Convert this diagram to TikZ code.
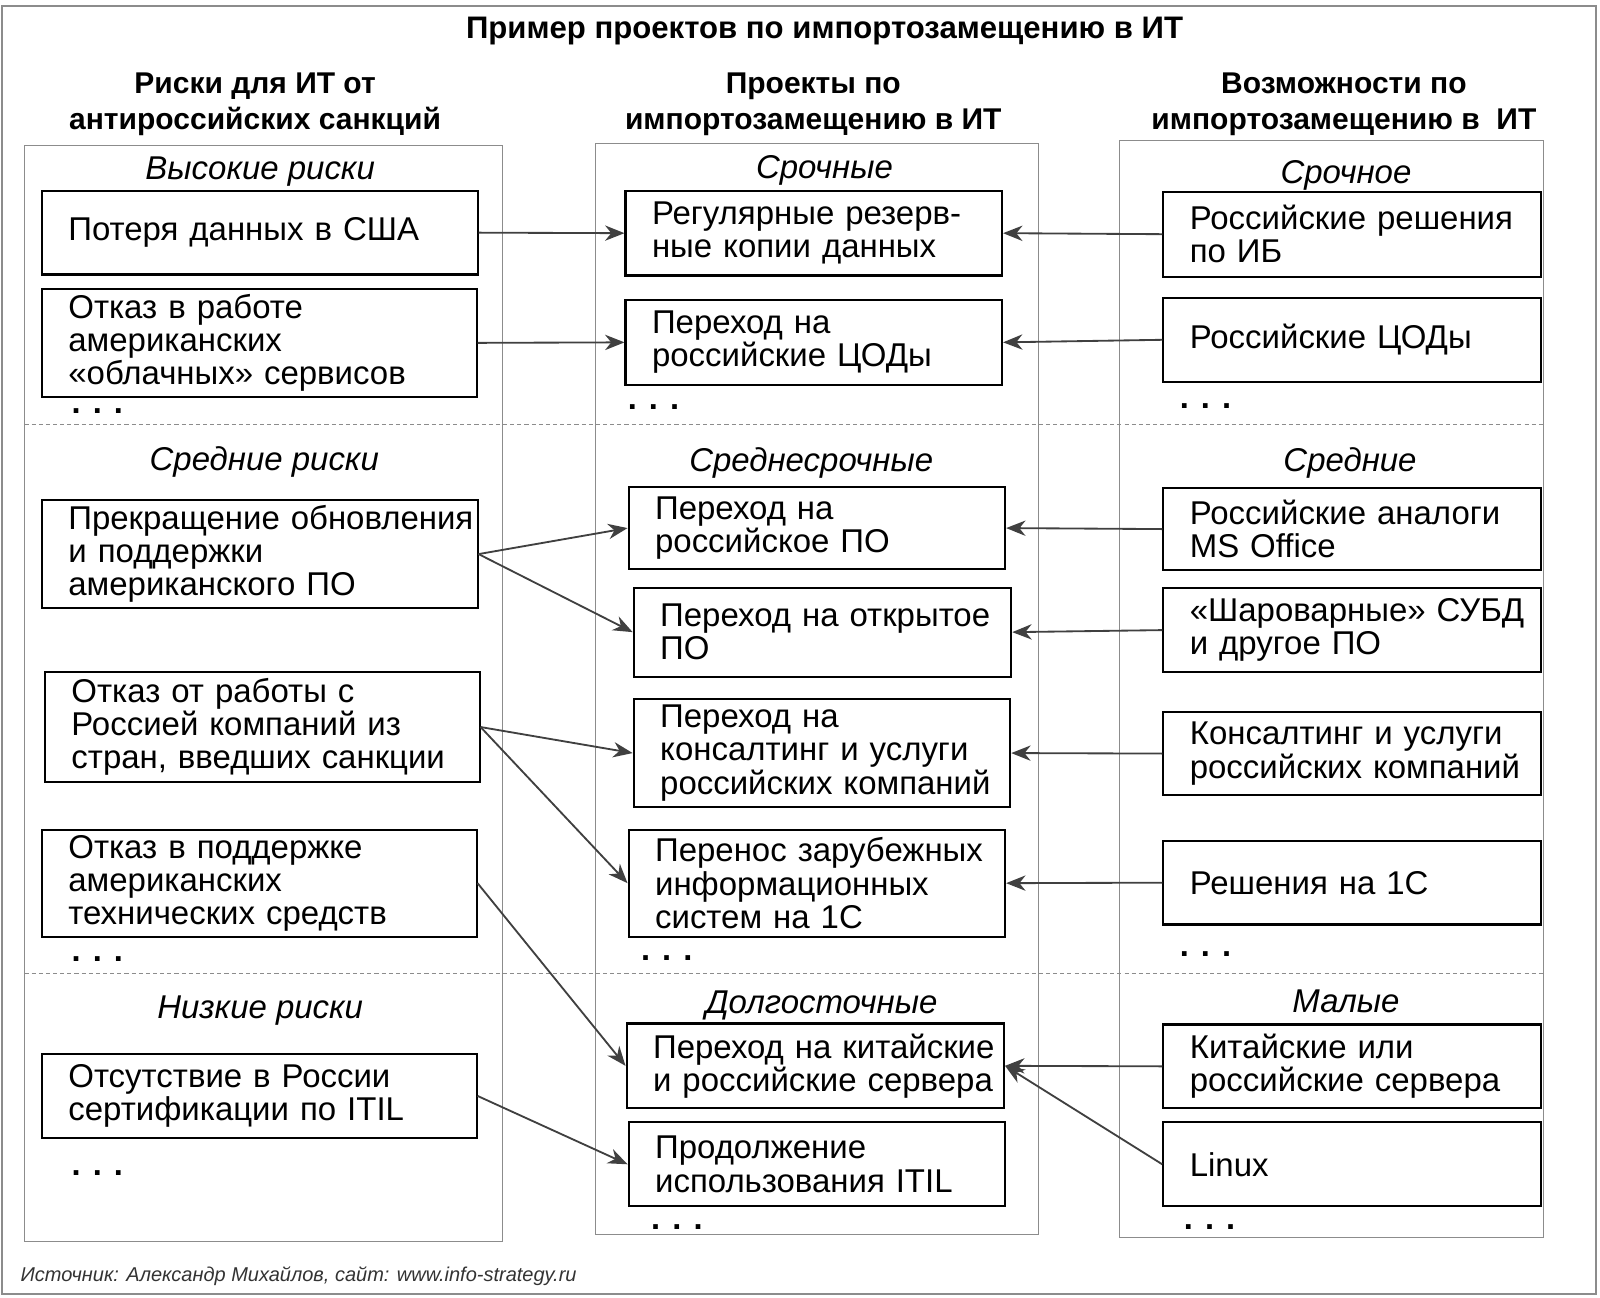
\documentclass[tikz,border=0pt]{standalone}
\usepackage{fontspec}
\setmainfont{Liberation Sans}
\usetikzlibrary{arrows.meta}
\definecolor{framec}{HTML}{8C8C8C}
\definecolor{arrc}{HTML}{404040}
\definecolor{srcc}{HTML}{333333}
\begin{document}
\begin{tikzpicture}[x=1pt,y=-1pt,
  bx/.style={draw=black, line width=2pt, inner xsep=26pt, inner ysep=0pt,
    align=left, anchor=north west, font=\fontsize{32.3}{32.5}\selectfont},
  sect/.style={anchor=base, inner sep=0pt, font=\fontsize{32.3}{34}\selectfont\itshape},
  hdr/.style={align=center, inner sep=0pt, font=\fontsize{29.4}{35}\selectfont\bfseries},
  dots/.style={anchor=base west, inner sep=0pt, font=\fontsize{32}{34}\selectfont\bfseries},
  col/.style={draw=framec, line width=1pt},
  sep/.style={draw=framec, line width=1pt, dash pattern=on 4pt off 3pt},
  arr/.style={draw=arrc, line width=1.8pt, -{Stealth[length=19pt, width=15pt, inset=6pt]}}]
\useasboundingbox (0,0) rectangle (1568,1272);
\draw[draw=framec, line width=2pt] (2,6) rectangle (1564,1268);

% title & headers
\node[anchor=base, inner sep=0pt, font=\fontsize{30.5}{34}\selectfont\bfseries] (title) at (808,38) {Пример проектов по импортозамещению в ИТ};
\node[hdr] (h1) at (250,102) {Риски для ИТ от\\антироссийских санкций};
\node[hdr] (h2) at (797,102) {Проекты по\\импортозамещению в ИТ};
\node[hdr] (h3) at (1317,102) {Возможности по\\импортозамещению в~~ИТ};

% column frames
\draw[col] (24,143) rectangle (492,1217);
\draw[col] (584,141) rectangle (1018,1210);
\draw[col] (1097,138) rectangle (1513,1213);
\draw[sep] (24,416) -- (1513,416);
\draw[sep] (24,954) -- (1513,954);

% section labels
\node[sect] (s1) at (255,176) {Высокие риски};
\node[sect] (s2) at (259,461) {Средние риски};
\node[sect] (s3) at (255,998) {Низкие риски};
\node[sect] (s4) at (808,175) {Срочные};
\node[sect] (s5) at (795,462) {Среднесрочные};
\node[sect] (s6) at (805,993) {Долгосточные};
\node[sect] (s7) at (1319,180) {Срочное};
\node[sect] (s8) at (1323,462) {Средние};
\node[sect] (s9) at (1319,992) {Малые};

% left boxes
\node[bx, text width=375pt, minimum height=82pt] (L1) at (40,186) {Потеря~данных~в~США};
\node[bx, text width=374pt, minimum height=106pt] (L2) at (40,282) {Отказ~в~работе\\американских\\«облачных»~сервисов};
\node[bx, text width=375pt, minimum height=106pt] (L3) at (40,489) {Прекращение~обновления\\и~поддержки\\американского~ПО};
\node[bx, text width=374pt, minimum height=107pt] (L4) at (43,658) {Отказ~от~работы~с\\Россией~компаний~из\\стран,~введших~санкции};
\node[bx, text width=374pt, minimum height=105pt] (L5) at (40,812) {Отказ~в~поддержке\\американских\\технических~средств};
\node[bx, text width=374pt, minimum height=82pt] (L6) at (40,1032) {Отсутствие~в~России\\сертификации~по~ITIL};

% middle boxes
\node[bx, text width=317pt, minimum height=83pt] (M1) at (612,186) {Регулярные~резерв-\\ные~копии~данных};
\node[bx, text width=317pt, minimum height=83pt] (M2) at (612,293) {Переход~на\\российские~ЦОДы};
\node[bx, text width=317pt, minimum height=81pt] (M3) at (615,476) {Переход~на\\российское~ПО};
\node[bx, text width=318pt, minimum height=87pt] (M4) at (620,575) {Переход~на~открытое\\ПО};
\node[bx, text width=317pt, minimum height=106pt] (M5) at (620,684) {Переход~на\\консалтинг~и~услуги\\российских~компаний};
\node[bx, text width=317pt, minimum height=105pt] (M6) at (615,812) {Перенос~зарубежных\\информационных\\систем~на~1С};
\node[bx, text width=318pt, minimum height=83pt] (M7) at (613,1002) {Переход~на~китайские\\и~российские~сервера};
\node[bx, text width=317pt, minimum height=82pt] (M8) at (615,1099) {Продолжение\\использования~ITIL};

% right boxes
\node[bx, text width=318pt, minimum height=83pt] (R1) at (1139,187) {Российские~решения\\по~ИБ};
\node[bx, text width=318pt, minimum height=82pt] (R2) at (1139,291) {Российские~ЦОДы};
\node[bx, text width=318pt, minimum height=81pt] (R3) at (1139,477) {Российские~аналоги\\MS~Office};
\node[bx, text width=318pt, minimum height=83pt] (R4) at (1139,575) {«Шароварные»~СУБД\\и~другое~ПО};
\node[bx, text width=318pt, minimum height=81pt] (R5) at (1139,697) {Консалтинг~и~услуги\\российских~компаний};
\node[bx, text width=318pt, minimum height=82pt] (R6) at (1139,823) {Решения~на~1С};
\node[bx, text width=318pt, minimum height=82pt] (R7) at (1139,1003) {Китайские~или\\российские~сервера};
\node[bx, text width=318pt, minimum height=82pt] (R8) at (1139,1099) {Linux};

% dots
\node[dots] (d1) at (70,405) {. . .};
\node[dots] (d2) at (70,942) {. . .};
\node[dots] (d3) at (70,1152) {. . .};
\node[dots] (d4) at (615,401) {. . .};
\node[dots] (d5) at (628,941) {. . .};
\node[dots] (d6) at (638,1205) {. . .};
\node[dots] (d7) at (1156,400) {. . .};
\node[dots] (d8) at (1156,937) {. . .};
\node[dots] (d9) at (1160,1205) {. . .};

% arrows
\draw[arr] (L1.east) -- (M1.west);
\draw[arr] (L2.east) -- (M2.west);
\draw[arr] (L3.east) -- (M3.west);
\draw[arr] (L3.east) -- (M4.west);
\draw[arr] (L4.east) -- (M5.west);
\draw[arr] (L4.east) -- (M6.west);
\draw[arr] (L5.east) -- (M7.west);
\draw[arr] (L6.east) -- (M8.west);
\draw[arr] (R1.west) -- (M1.east);
\draw[arr] (R2.west) -- (M2.east);
\draw[arr] (R3.west) -- (M3.east);
\draw[arr] (R4.west) -- (M4.east);
\draw[arr] (R5.west) -- (M5.east);
\draw[arr] (R6.west) -- (M6.east);
\draw[arr] (R7.west) -- (M7.east);
\draw[arr] (R8.west) -- (M7.east);

% source
\node[anchor=west, inner sep=0pt, text=srcc, font=\fontsize{19.6}{22}\selectfont\itshape] (src) at (20,1251) {Источник: Александр Михайлов, сайт: www.info-strategy.ru};
\end{tikzpicture}
\end{document}
